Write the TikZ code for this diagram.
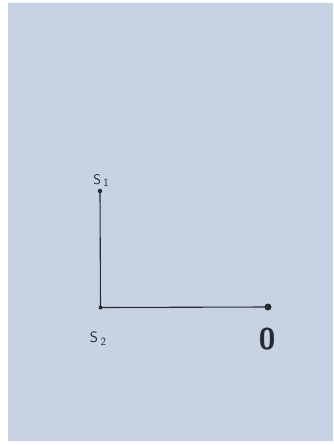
\documentclass[tikz,border=0pt]{standalone}
\begin{document}
\begin{tikzpicture}[x=1pt,y=-1pt,
  dotmark/.style={circle,fill=ink,inner sep=0pt,minimum size=#1},
  lbl/.style={text=ink,inner sep=0pt},
  wire/.style={draw=ink,line width=1.1pt}]
\definecolor{paper}{RGB}{199,211,227}
\definecolor{ink}{RGB}{40,42,48}
\useasboundingbox (0,0) rectangle (333,445);
\fill[white] (0,0) rectangle (333,445);
\fill[paper] (8,3) rectangle (333,441);
\node[dotmark=4.5pt] (s1) at (100,191) {};
\node[dotmark=4pt] (s2) at (100.5,307.5) {};
\node[dotmark=7pt] (o) at (268,307) {};
\draw[wire] (s1.center) -- (s2.center) -- (o.center);
\node[lbl,font=\fontsize{14}{18}\selectfont\sffamily] (l1) at (101,180) {S\,\raisebox{-2pt}{\fontsize{11}{12}\selectfont 1}};
\node[lbl,font=\fontsize{15}{18}\selectfont\sffamily] (l2) at (98,339) {S\,\raisebox{-3pt}{\fontsize{11}{12}\selectfont 2}};
\node[lbl,font=\fontsize{30}{34}\selectfont\sffamily\bfseries] (l3) at (267,339) {0};
\end{tikzpicture}
\end{document}
